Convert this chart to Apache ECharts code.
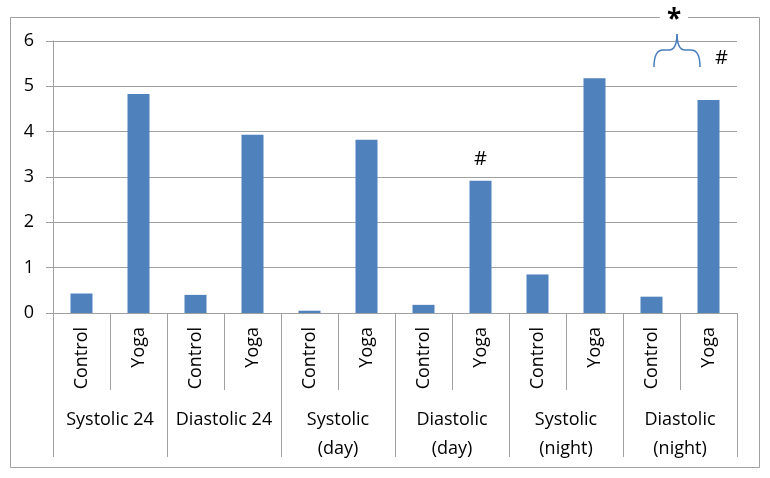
<!DOCTYPE html>
<html>
<head>
<meta charset="utf-8">
<script src="https://cdn.jsdelivr.net/npm/echarts@6/dist/echarts.min.js"></script>
<style>
  html, body { margin: 0; padding: 0; background: #fff; }
  #chart { width: 770px; height: 478px; }
</style>
</head>
<body>
<div id="chart"></div>
<script>
  // categories
  var groups = ['Systolic 24', 'Diastolic 24', 'Systolic\n(day)', 'Diastolic\n(day)', 'Systolic\n(night)', 'Diastolic\n(night)'];
  var arms = ['Control', 'Yoga'];
  var subCats = [];
  groups.forEach(function () { arms.forEach(function (a) { subCats.push(a); }); });

  // bar values
  var values = [0.43, 4.83, 0.40, 3.93, 0.05, 3.82, 0.18, 2.92, 0.85, 5.18, 0.36, 4.70];
  var yTicks = [0, 1, 2, 3, 4, 5, 6];

  var font = 'Open Sans';
  var gray = '#a0a0a0';
  var chart = echarts.init(document.getElementById('chart'));

  var option = {
    backgroundColor: '#fff',
    animation: false,
    textStyle: { fontFamily: font },
    grid: { left: 53, right: 33, top: 41, bottom: 165 },
    xAxis: [
      {
        type: 'category',
        data: subCats,
        position: 'bottom',
        axisLine: { show: true, onZero: false, lineStyle: { color: gray } },
        axisTick: { show: true, interval: 0, length: 77, lineStyle: { color: gray } },
        axisLabel: { interval: 0, rotate: 90, margin: 14, fontSize: 18, color: '#000', fontFamily: font }
      },
      {
        type: 'category',
        data: groups,
        position: 'bottom',
        axisLine: { show: false, onZero: false },
        axisTick: { show: true, interval: 0, length: 144, lineStyle: { color: gray } },
        axisLabel: { interval: 0, margin: 92, fontSize: 18, lineHeight: 29, color: '#000', fontFamily: font }
      }
    ],
    yAxis: {
      type: 'value',
      min: yTicks[0],
      max: yTicks[yTicks.length - 1],
      interval: 1,
      axisLine: { show: true, lineStyle: { color: gray } },
      axisTick: { show: true, length: 7, lineStyle: { color: gray } },
      splitLine: { lineStyle: { color: gray } },
      axisLabel: { margin: 19, fontSize: 18, color: '#000', fontFamily: font }
    },
    series: [{
      type: 'bar',
      xAxisIndex: 0,
      data: values,
      barWidth: 22,
      itemStyle: { color: '#4f81bd' }
    }]
  };
  chart.setOption(option);

  // annotations placed from the axes
  var px = function (i, v) { return chart.convertToPixel({ xAxisIndex: 0, yAxisIndex: 0 }, [i, v]); };
  var top6 = px(0, 6)[1];
  var xc = (px(10, 0)[0] + px(11, 0)[0]) / 2 - 3;
  var x1 = xc - 23, x2 = xc + 23;
  var yTip = top6 - 8, yMid = top6 + 9, yEnd = top6 + 26;
  var braceStyle = { stroke: '#4a7ebb', lineWidth: 1.5, fill: null };
  var hashDay = px(7, values[7]);
  var hashNight = px(11, values[11]);

  chart.setOption({
    graphic: [
      { type: 'rect', z: -10, shape: { x: 10.5, y: 17.5, width: 749, height: 450 }, style: { fill: null, stroke: gray, lineWidth: 1 } },
      { type: 'bezierCurve', shape: { x1: x1, y1: yEnd, x2: x1 + 9, y2: yMid, cpx1: x1, cpy1: yMid }, style: braceStyle },
      { type: 'line', shape: { x1: x1 + 9, y1: yMid, x2: xc - 8, y2: yMid }, style: braceStyle },
      { type: 'bezierCurve', shape: { x1: xc - 8, y1: yMid, x2: xc, y2: yTip, cpx1: xc, cpy1: yMid }, style: braceStyle },
      { type: 'bezierCurve', shape: { x1: xc, y1: yTip, x2: xc + 8, y2: yMid, cpx1: xc, cpy1: yMid }, style: braceStyle },
      { type: 'line', shape: { x1: xc + 8, y1: yMid, x2: x2 - 9, y2: yMid }, style: braceStyle },
      { type: 'bezierCurve', shape: { x1: x2 - 9, y1: yMid, x2: x2, y2: yEnd, cpx1: x2, cpy1: yMid }, style: braceStyle },
      { type: 'text', z: 10, x: xc - 3, y: 21, style: { text: '*', font: 'bold 26px ' + font, fill: '#000', align: 'center', verticalAlign: 'middle', backgroundColor: '#fff', padding: [0, 7, 0, 7] } },
      { type: 'text', z: 10, x: hashDay[0], y: hashDay[1] - 21, style: { text: '#', font: '20px ' + font, fill: '#000', align: 'center', verticalAlign: 'middle' } },
      { type: 'text', z: 10, x: hashNight[0] + 13, y: hashNight[1] - 42, style: { text: '#', font: '20px ' + font, fill: '#000', align: 'center', verticalAlign: 'middle', backgroundColor: '#fff', padding: [0, 8, 0, 8] } }
    ]
  });
</script>
</body>
</html>
